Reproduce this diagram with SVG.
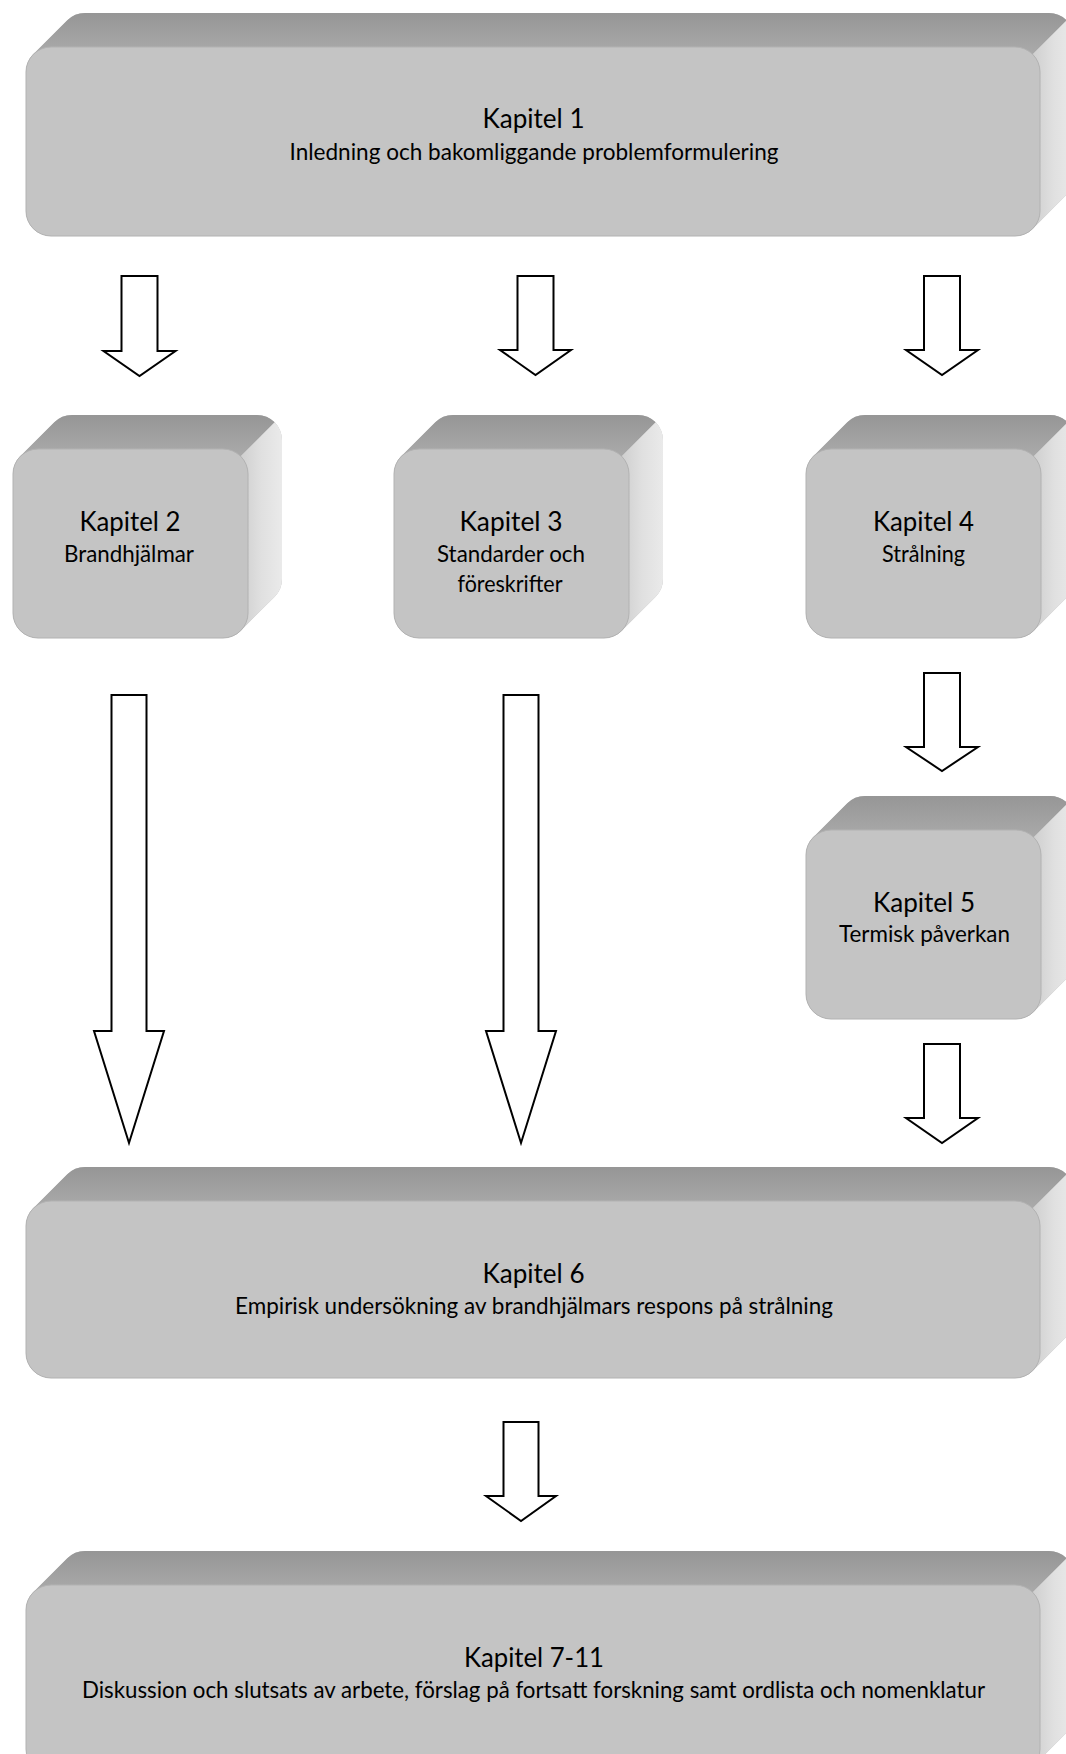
<svg xmlns="http://www.w3.org/2000/svg" xmlns:xlink="http://www.w3.org/1999/xlink" width="1066" height="1754" viewBox="0 0 1066 1754">
<style>
.sil{fill:#bcbcbc}
.top{fill:url(#gTop)}
.side{fill:url(#gSide)}
.front{fill:#c4c4c4;stroke:#b2b2b2;stroke-width:1}
.t1{font-family:Lato,"Liberation Sans",sans-serif;font-size:27px;fill:#000;text-anchor:middle}
.t2{font-family:Lato,"Liberation Sans",sans-serif;font-size:22.5px;fill:#000;text-anchor:middle}
.arrow{fill:#fff;stroke:#000;stroke-width:2;stroke-linejoin:miter}
</style>
<defs>
<linearGradient id="gTop" x1="0" y1="0" x2="0" y2="1">
<stop offset="0" stop-color="#969696"/>
<stop offset="1" stop-color="#aaaaaa"/>
</linearGradient>
<linearGradient id="gSide" x1="0" y1="0" x2="1" y2="0">
<stop offset="0" stop-color="#cfcfcf"/>
<stop offset="0.5" stop-color="#e0e0e0"/>
<stop offset="1" stop-color="#eaeaea"/>
</linearGradient>
<g id="smallBox">
<path class="sil" d="M0,164 L0,25 A25 25 0 0 1 7.32,7.32 L41.32,-26.68 A25 25 0 0 1 59,-34 L244,-34 A25 25 0 0 1 269,-9 L269,130 A25 25 0 0 1 261.68,147.68 L227.68,181.68 A25 25 0 0 1 210,189 L25,189 A25 25 0 0 1 0,164 Z"/>
<path class="top" d="M7.32,7.32 L41.32,-26.68 A25 25 0 0 1 59,-34 L244,-34 A25 25 0 0 1 261.68,-26.68 L227.68,7.32 Z"/>
<path class="side" d="M227.68,7.32 L261.68,-26.68 A25 25 0 0 1 269,-9 L269,130 A25 25 0 0 1 261.68,147.68 L227.68,181.68 Z"/>
<rect class="front" x="0" y="0" width="235" height="189" rx="25" ry="25"/>
</g>
<g id="wideBox">
<path class="sil" d="M0,164 L0,25 A25 25 0 0 1 7.32,7.32 L41.32,-26.68 A25 25 0 0 1 59,-34 L1023,-34 A25 25 0 0 1 1048,-9 L1048,130 A25 25 0 0 1 1040.68,147.68 L1006.68,181.68 A25 25 0 0 1 989,189 L25,189 A25 25 0 0 1 0,164 Z"/>
<path class="top" d="M7.32,7.32 L41.32,-26.68 A25 25 0 0 1 59,-34 L1023,-34 A25 25 0 0 1 1040.68,-26.68 L1006.68,7.32 Z"/>
<path class="side" d="M1006.68,7.32 L1040.68,-26.68 A25 25 0 0 1 1048,-9 L1048,130 A25 25 0 0 1 1040.68,147.68 L1006.68,181.68 Z"/>
<rect class="front" x="0" y="0" width="1014" height="189" rx="25" ry="25"/>
</g>
<g id="wideBoxS">
<path class="sil" d="M0,152 L0,25 A25 25 0 0 1 7.32,7.32 L41.32,-26.68 A25 25 0 0 1 59,-34 L1023,-34 A25 25 0 0 1 1048,-9 L1048,118 A25 25 0 0 1 1040.68,135.68 L1006.68,169.68 A25 25 0 0 1 989,177 L25,177 A25 25 0 0 1 0,152 Z"/>
<path class="top" d="M7.32,7.32 L41.32,-26.68 A25 25 0 0 1 59,-34 L1023,-34 A25 25 0 0 1 1040.68,-26.68 L1006.68,7.32 Z"/>
<path class="side" d="M1006.68,7.32 L1040.68,-26.68 A25 25 0 0 1 1048,-9 L1048,118 A25 25 0 0 1 1040.68,135.68 L1006.68,169.68 Z"/>
<rect class="front" x="0" y="0" width="1014" height="177" rx="25" ry="25"/>
</g>
</defs>
<rect x="0" y="0" width="1066" height="1754" fill="#fff"/>

<g id="kapitel1">
<use xlink:href="#wideBox" href="#wideBox" transform="translate(26,47)"/>
<text class="t1" x="533.5" y="128" textLength="102" lengthAdjust="spacingAndGlyphs">Kapitel 1</text>
<text class="t2" x="534" y="160" textLength="489" lengthAdjust="spacingAndGlyphs">Inledning och bakomliggande problemformulering</text>
</g>

<g id="kapitel2">
<use xlink:href="#smallBox" href="#smallBox" transform="translate(13,449)"/>
<text class="t1" x="130" y="531" textLength="101" lengthAdjust="spacingAndGlyphs">Kapitel 2</text>
<text class="t2" x="129" y="562" textLength="130" lengthAdjust="spacingAndGlyphs">Brandhjälmar</text>
</g>

<g id="kapitel3">
<use xlink:href="#smallBox" href="#smallBox" transform="translate(394,449)"/>
<text class="t1" x="511" y="531" textLength="103" lengthAdjust="spacingAndGlyphs">Kapitel 3</text>
<text class="t2" x="511" y="562" textLength="148" lengthAdjust="spacingAndGlyphs">Standarder och</text>
<text class="t2" x="510" y="592" textLength="105" lengthAdjust="spacingAndGlyphs">föreskrifter</text>
</g>

<g id="kapitel4">
<use xlink:href="#smallBox" href="#smallBox" transform="translate(806,449)"/>
<text class="t1" x="923.5" y="531" textLength="101" lengthAdjust="spacingAndGlyphs">Kapitel 4</text>
<text class="t2" x="923.5" y="562" textLength="83" lengthAdjust="spacingAndGlyphs">Strålning</text>
</g>

<g id="kapitel5">
<use xlink:href="#smallBox" href="#smallBox" transform="translate(806,830)"/>
<text class="t1" x="924" y="912" textLength="102" lengthAdjust="spacingAndGlyphs">Kapitel 5</text>
<text class="t2" x="924.5" y="942" textLength="171" lengthAdjust="spacingAndGlyphs">Termisk påverkan</text>
</g>

<g id="kapitel6">
<use xlink:href="#wideBoxS" href="#wideBoxS" transform="translate(26,1201)"/>
<text class="t1" x="533.5" y="1283" textLength="102" lengthAdjust="spacingAndGlyphs">Kapitel 6</text>
<text class="t2" x="534" y="1314" textLength="598" lengthAdjust="spacingAndGlyphs">Empirisk undersökning av brandhjälmars respons på strålning</text>
</g>

<g id="kapitel7-11">
<use xlink:href="#wideBox" href="#wideBox" transform="translate(26,1585)"/>
<text class="t1" x="534" y="1667" textLength="140" lengthAdjust="spacingAndGlyphs">Kapitel 7-11</text>
<text class="t2" x="533.5" y="1698" textLength="903" lengthAdjust="spacingAndGlyphs">Diskussion och slutsats av arbete, förslag på fortsatt forskning samt ordlista och nomenklatur</text>
</g>

<g id="connectors">
<polygon class="arrow" points="121.5,276 157.5,276 157.5,351 175.5,351 139.5,376 103.5,351 121.5,351"/>
<polygon class="arrow" points="517.5,276 553.5,276 553.5,350 571,350 535.5,375 500,350 517.5,350"/>
<polygon class="arrow" points="924,276 960,276 960,350 978,350 942,375 906,350 924,350"/>
<polygon class="arrow" points="924,673 960,673 960,747 978,747 942,771 906,747 924,747"/>
<polygon class="arrow" points="924,1044 960,1044 960,1118 978,1118 942,1143 906,1118 924,1118"/>
<polygon class="arrow" points="503.5,1422 538.5,1422 538.5,1496 556,1496 521,1521 486,1496 503.5,1496"/>
<polygon class="arrow" points="111.5,695 146.5,695 146.5,1031 164,1031 129,1143 94,1031 111.5,1031"/>
<polygon class="arrow" points="503.5,695 538.5,695 538.5,1031 556,1031 521,1143 486,1031 503.5,1031"/>
</g>
</svg>
